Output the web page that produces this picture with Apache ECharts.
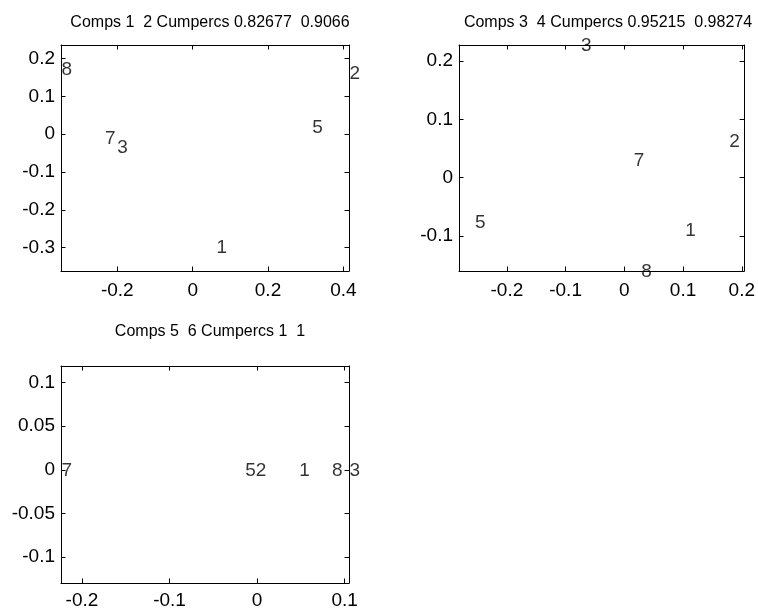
<!DOCTYPE html>
<html>
<head>
<meta charset="utf-8">
<script src="https://cdn.jsdelivr.net/npm/echarts@6/dist/echarts.min.js"></script>
<style>
html,body{margin:0;padding:0;background:#fff;}
#c{width:758px;height:610px;}
</style>
</head>
<body>
<div id="c"></div>
<script>
// ---- data ----
const pointLabels = ['1', '2', '3', '5', '7', '8'];

const titles = [
  'Comps 1  2 Cumpercs 0.82677  0.9066',
  'Comps 3  4 Cumpercs 0.95215  0.98274',
  'Comps 5  6 Cumpercs 1  1'
];

const comp1 = [0.062, 0.415, -0.2015, 0.316, -0.234, -0.3495];
const comp2 = [-0.299, 0.163, -0.0335, 0.019, -0.009, 0.173];
const comp3 = [0.103, 0.178, -0.0748, -0.255, 0.0152, 0.028];
const comp4 = [-0.089, 0.063, 0.2275, -0.076, 0.030, -0.16];
const comp5 = [0.0475, -0.002, 0.1049, -0.014, -0.2239, 0.085];
const comp6 = [0, 0, 0, 0, 0, 0];

const xRange1 = [-0.3495, 0.415];
const yRange1 = [-0.362, 0.236];
const xRange2 = [-0.2815, 0.204];
const yRange2 = [-0.16, 0.2275];
const xRange3 = [-0.2239, 0.1049];
const yRange3 = [-0.1297, 0.119];

const xTicks1 = [-0.2, 0, 0.2, 0.4];
const yTicks1 = [-0.3, -0.2, -0.1, 0, 0.1, 0.2];
const xTicks2 = [-0.2, -0.1, 0, 0.1, 0.2];
const yTicks2 = [-0.1, 0, 0.1, 0.2];
const xTicks3 = [-0.2, -0.1, 0, 0.1];
const yTicks3 = [-0.1, -0.05, 0, 0.05, 0.1];

// ---- layout ----
const FONT = 'Liberation Sans, Arial, Helvetica, sans-serif';
const TICK_FS = 19;
const grids = [
  {left: 61, top: 45, width: 288, height: 226, titleTop: 10, xMargin: 10},
  {left: 459, top: 45, width: 288, height: 226, titleTop: 10, xMargin: 10},
  {left: 61, top: 366, width: 288, height: 218, titleTop: 319, xMargin: 8}
];
const panels = [
  {x: comp1, y: comp2, xr: xRange1, yr: yRange1, xt: xTicks1, yt: yTicks1},
  {x: comp3, y: comp4, xr: xRange2, yr: yRange2, xt: xTicks2, yt: yTicks2},
  {x: comp5, y: comp6, xr: xRange3, yr: yRange3, xt: xTicks3, yt: yTicks3}
];

const lineStyle = {color: '#000', width: 1};
const option = {
  backgroundColor: '#fff',
  animation: false,
  title: [], grid: [], xAxis: [], yAxis: [], series: []
};

panels.forEach((p, i) => {
  const g = grids[i];
  option.grid.push({left: g.left, top: g.top, width: g.width, height: g.height, containLabel: false});
  option.title.push({
    text: titles[i],
    left: g.left + g.width / 2,
    top: g.titleTop,
    textAlign: 'center',
    textStyle: {fontFamily: FONT, fontSize: 16, fontWeight: 'normal', color: '#000'}
  });
  const mkX = (pos, show) => ({
    type: 'value', gridIndex: i, position: pos, min: p.xr[0], max: p.xr[1],
    axisLine: {show: true, onZero: false, lineStyle},
    axisTick: {show: true, inside: true, length: 4.5, lineStyle, customValues: p.xt},
    axisLabel: {show: show, margin: g.xMargin, color: '#000', fontFamily: FONT, fontSize: TICK_FS, customValues: p.xt,
      formatter: v => String(v)},
    splitLine: {show: false}
  });
  const mkY = (pos, show) => ({
    type: 'value', gridIndex: i, position: pos, min: p.yr[0], max: p.yr[1],
    axisLine: {show: true, onZero: false, lineStyle},
    axisTick: {show: true, inside: true, length: 4.5, lineStyle, customValues: p.yt},
    axisLabel: {show: show, margin: 6, color: '#000', fontFamily: FONT, fontSize: TICK_FS, customValues: p.yt,
      formatter: v => String(v)},
    splitLine: {show: false}
  });
  const xi = option.xAxis.length;
  option.xAxis.push(mkX('bottom', true), mkX('top', false));
  const yi = option.yAxis.length;
  option.yAxis.push(mkY('left', true), mkY('right', false));
  option.series.push({
    type: 'scatter',
    xAxisIndex: xi, yAxisIndex: yi,
    symbolSize: 1,
    itemStyle: {color: 'rgba(0,0,0,0)'},
    clip: false,
    silent: true,
    data: p.x.map((v, k) => ({name: pointLabels[k], value: [v, p.y[k]]})),
    label: {
      show: true, position: 'right', distance: 0, offset: [0, 1],
      formatter: '{b}', color: '#000', fontFamily: FONT, fontSize: TICK_FS,
      align: 'left', verticalAlign: 'middle'
    }
  });
});

const chart = echarts.init(document.getElementById('c'), null, {renderer: 'canvas'});
chart.setOption(option);
</script>
</body>
</html>
